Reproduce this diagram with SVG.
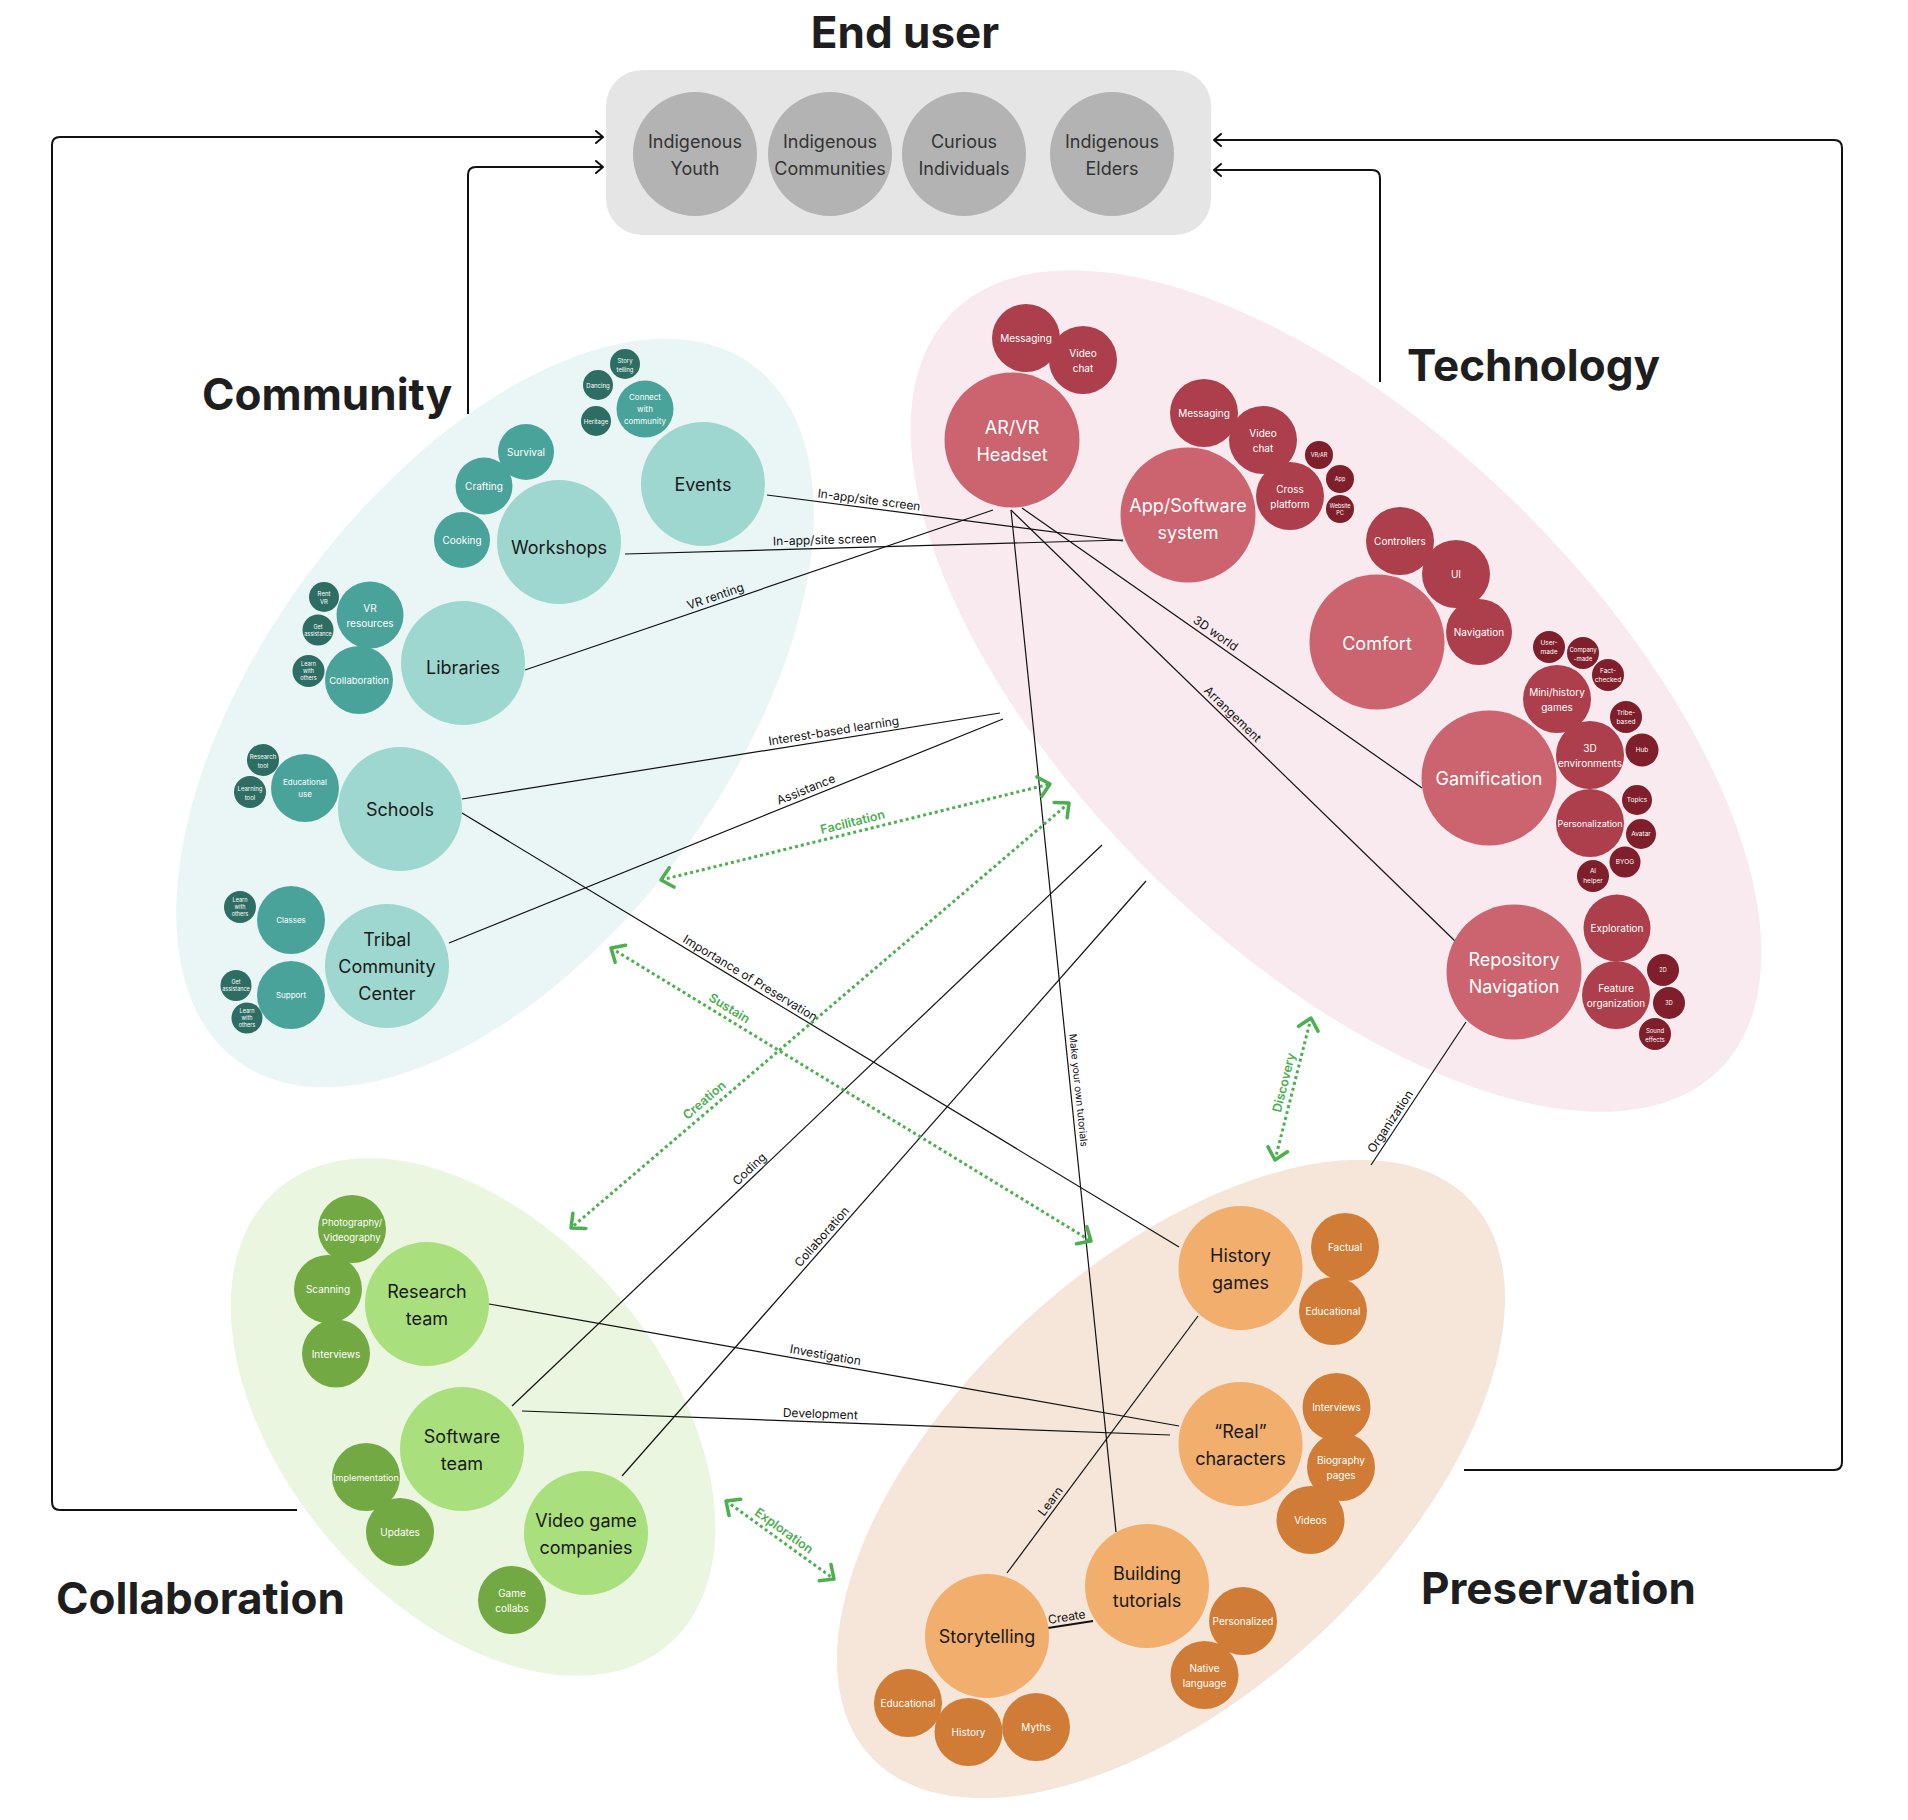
<svg xmlns="http://www.w3.org/2000/svg" width="1908" height="1820" viewBox="0 0 1908 1820">
<defs>
<style>
text{font-family:Inter,"Noto Sans","Liberation Sans",sans-serif}
.title{font-size:44px;font-weight:700;fill:#1e1e1e}
.nt{text-anchor:middle;dominant-baseline:central}
.f18{font-size:18px}.f10{font-size:10px}.f95{font-size:9.5px}.f9{font-size:9px}.f8{font-size:8px}.f7{font-size:7px}.f65{font-size:6.5px}.f6{font-size:6px}.f55{font-size:5.5px}
.dk{fill:#1a1a1a}.wt{fill:#fff}.gy{fill:#333}
.eu{fill:#b3b3b3}
.c1{fill:#9ed7cf}.c2{fill:#4aa39a}.c3{fill:#2e6d63}
.t1{fill:#cc6470}.t2{fill:#ad3f4c}.t3{fill:#7e1f2b}
.g1{fill:#a9df7c}.g2{fill:#73a942}
.p1{fill:#f1ae6c}.p2{fill:#d07c36}
.ln{stroke:#111;stroke-width:1.2;fill:none}
.el{stroke:#111;stroke-width:2;fill:none}
.gd{stroke:#4caf50;stroke-width:3;stroke-dasharray:3 3;fill:none}
.cl{font-size:12px;fill:#111;text-anchor:middle}
.gl{font-size:12.5px;font-weight:600;fill:#4caf50;text-anchor:middle}
</style>
<marker id="ga" viewBox="-14 -13 17 26" markerWidth="17" markerHeight="26" refX="0" refY="0" orient="auto-start-reverse" markerUnits="userSpaceOnUse">
<path d="M-11,-10 L0,0 L-11,10" fill="none" stroke="#4caf50" stroke-width="3.5" stroke-linecap="round" stroke-linejoin="round"/>
</marker>
<marker id="ba" viewBox="-9 -8 11 16" markerWidth="11" markerHeight="16" refX="0" refY="0" orient="auto" markerUnits="userSpaceOnUse">
<path d="M-7,-6 L0,0 L-7,6" fill="none" stroke="#111" stroke-width="2" stroke-linecap="round" stroke-linejoin="round"/>
</marker>
</defs>
<rect width="1908" height="1820" fill="#fff"/>

<!-- background clusters -->
<g id="clusters">
<ellipse cx="495" cy="713" rx="433" ry="233" transform="rotate(-53.4 495 713)" fill="#eaf6f5"/>
<ellipse cx="1336" cy="691" rx="539" ry="260" transform="rotate(44.5 1336 691)" fill="#f9eaef"/>
<ellipse cx="473" cy="1417" rx="300" ry="189" transform="rotate(49.4 473 1417)" fill="#eaf6df"/>
<ellipse cx="1171" cy="1479" rx="409" ry="215" transform="rotate(-42.7 1171 1479)" fill="#f5e6d9"/>
</g>

<!-- titles -->
<g id="titles">
<text class="title" x="905" y="48" text-anchor="middle">End user</text>
<text class="title" x="202" y="410">Community</text>
<text class="title" x="1407" y="381">Technology</text>
<text class="title" x="56" y="1614">Collaboration</text>
<text class="title" x="1421" y="1604">Preservation</text>
</g>

<!-- end user -->
<g id="end-user">
<rect x="606" y="70" width="605" height="165" rx="36" fill="#e5e5e5"/>
<g id="eu-youth"><circle class="eu" cx="695" cy="154" r="62"/><text class="nt f18 gy" x="695" y="154"><tspan x="695" dy="-13.5">Indigenous</tspan><tspan x="695" dy="27">Youth</tspan></text></g>
<g id="eu-communities"><circle class="eu" cx="830" cy="154" r="62"/><text class="nt f18 gy" x="830" y="154"><tspan x="830" dy="-13.5">Indigenous</tspan><tspan x="830" dy="27">Communities</tspan></text></g>
<g id="eu-curious"><circle class="eu" cx="964" cy="154" r="62"/><text class="nt f18 gy" x="964" y="154"><tspan x="964" dy="-13.5">Curious</tspan><tspan x="964" dy="27">Individuals</tspan></text></g>
<g id="eu-elders"><circle class="eu" cx="1112" cy="154" r="62"/><text class="nt f18 gy" x="1112" y="154"><tspan x="1112" dy="-13.5">Indigenous</tspan><tspan x="1112" dy="27">Elders</tspan></text></g>
</g>

<!-- connectors -->
<g id="connectors">
<path class="el" d="M297,1510 H60 Q52,1510 52,1502 V145 Q52,137 60,137 H603" marker-end="url(#ba)"/>
<path class="el" d="M468,414 V175 Q468,167 476,167 H603" marker-end="url(#ba)"/>
<path class="el" d="M1464,1470 H1834 Q1842,1470 1842,1462 V148 Q1842,140 1834,140 H1214" marker-end="url(#ba)"/>
<path class="el" d="M1380,382 V178 Q1380,170 1372,170 H1214" marker-end="url(#ba)"/>

<path class="ln" d="M767,495 L1123,541"/>
<path class="ln" d="M625,554 L1123,540"/>
<path class="ln" d="M525,670 L993,510"/>
<path class="ln" d="M462,799 L1000,713"/>
<path class="ln" d="M449,943 L1003,719"/>
<path class="ln" d="M462,813 L1179,1247"/>
<path class="ln" d="M1022,508 L1422,788"/>
<path class="ln" d="M1011,510 L1456,942"/>
<path class="ln" d="M1011,510 L1116,1532"/>
<path class="ln" d="M1102,845 L512,1406"/>
<path class="ln" d="M1146,881 L622,1476"/>
<path class="ln" d="M489,1304 L1179,1426"/>
<path class="ln" d="M522,1411 L1170,1435"/>
<path class="ln" d="M1198,1316 L1007,1573"/>
<path class="ln" d="M1048,1628 L1093,1621" style="stroke-width:2"/>
<path class="ln" d="M1466,1022 L1371,1165"/>

<text class="cl" transform="translate(868,508) rotate(7.4)" y="-4">In-app/site screen</text>
<text class="cl" transform="translate(825,548) rotate(-1.6)" y="-4">In-app/site screen</text>
<text class="cl" transform="translate(718,604) rotate(-18.9)" y="-4">VR renting</text>
<text class="cl" transform="translate(835,739) rotate(-9.1)" y="-4">Interest-based learning</text>
<text class="cl" transform="translate(809,797) rotate(-22)" y="-4">Assistance</text>
<text class="cl" transform="translate(746,985) rotate(31.2)" y="-4">Importance of Preservation</text>
<text class="cl" transform="translate(1211,640) rotate(35)" y="-4">3D world</text>
<text class="cl" transform="translate(1227,720) rotate(44.2)" y="-4">Arrangement</text>
<text class="cl" transform="translate(1071,1091) rotate(84.1)" y="-4" style="font-size:10px">Make your own tutorials</text>
<text class="cl" transform="translate(755,1175) rotate(-43.6)" y="-4">Coding</text>
<text class="cl" transform="translate(828,1242) rotate(-48.6)" y="-4">Collaboration</text>
<text class="cl" transform="translate(824,1363) rotate(10)" y="-4">Investigation</text>
<text class="cl" transform="translate(820,1422) rotate(2.1)" y="-4">Development</text>
<text class="cl" transform="translate(1057,1506) rotate(-53.4)" y="-4">Learn</text>
<text class="cl" transform="translate(1068,1625) rotate(-8.8)" y="-4">Create</text>
<text class="cl" transform="translate(1397,1126) rotate(-56.4)" y="-4">Organization</text>

<path class="gd" d="M661,880 L1050,784" marker-start="url(#ga)" marker-end="url(#ga)"/>
<path class="gd" d="M1069,803 L571,1228" marker-start="url(#ga)" marker-end="url(#ga)"/>
<path class="gd" d="M611,948 L1091,1241" marker-start="url(#ga)" marker-end="url(#ga)"/>
<path class="gd" d="M1311,1018 L1275,1160" marker-start="url(#ga)" marker-end="url(#ga)"/>
<path class="gd" d="M726,1501 L834,1579" marker-start="url(#ga)" marker-end="url(#ga)"/>
<text class="gl" transform="translate(855,832) rotate(-13.9)" y="-6">Facilitation</text>
<text class="gl" transform="translate(711,1108) rotate(-40.5)" y="-6">Creation</text>
<text class="gl" transform="translate(724,1017) rotate(31.4)" y="-6">Sustain</text>
<text class="gl" transform="translate(1294,1085) rotate(-75.8)" y="-6">Discovery</text>
<text class="gl" transform="translate(778,1539) rotate(35.8)" y="-6">Exploration</text>
</g>

<!-- Community nodes -->
<g id="community">
<g id="c-events"><circle class="c1" cx="703" cy="484" r="62"/><text class="nt f18 dk" x="703" y="484">Events</text></g>
<g id="c-workshops"><circle class="c1" cx="559" cy="542" r="62"/><text class="nt f18 dk" x="559" y="547">Workshops</text></g>
<g id="c-libraries"><circle class="c1" cx="463" cy="663" r="62"/><text class="nt f18 dk" x="463" y="667">Libraries</text></g>
<g id="c-schools"><circle class="c1" cx="400" cy="809" r="62"/><text class="nt f18 dk" x="400" y="809">Schools</text></g>
<g id="c-tribal"><circle class="c1" cx="387" cy="966" r="62"/><text class="nt f18 dk" x="387" y="966"><tspan x="387" dy="-27">Tribal</tspan><tspan x="387" dy="27">Community</tspan><tspan x="387" dy="27">Center</tspan></text></g>

<g id="c-survival"><circle class="c2" cx="526" cy="452" r="28"/><text class="nt f10 wt" x="526" y="452">Survival</text></g>
<g id="c-crafting"><circle class="c2" cx="484" cy="486" r="28.5"/><text class="nt f10 wt" x="484" y="486">Crafting</text></g>
<g id="c-cooking"><circle class="c2" cx="462" cy="540" r="28"/><text class="nt f10 wt" x="462" y="540">Cooking</text></g>
<g id="c-connect"><circle class="c2" cx="645" cy="409" r="28.5"/><text class="nt f8 wt" x="645" y="409"><tspan x="645" dy="-12">Connect</tspan><tspan x="645" dy="12">with</tspan><tspan x="645" dy="12">community</tspan></text></g>
<g id="c-storytelling"><circle class="c3" cx="625" cy="364" r="15"/><text class="nt f6 wt" x="625" y="364"><tspan x="625" dy="-4.5">Story</tspan><tspan x="625" dy="9">telling</tspan></text></g>
<g id="c-dancing"><circle class="c3" cx="598" cy="385" r="15"/><text class="nt f6 wt" x="598" y="385">Dancing</text></g>
<g id="c-heritage"><circle class="c3" cx="596" cy="421" r="15"/><text class="nt f6 wt" x="596" y="421">Heritage</text></g>

<g id="c-vrres"><circle class="c2" cx="370" cy="615" r="33.5"/><text class="nt f10 wt" x="370" y="615"><tspan x="370" dy="-7.5">VR</tspan><tspan x="370" dy="15">resources</tspan></text></g>
<g id="c-collab"><circle class="c2" cx="359" cy="680" r="34"/><text class="nt f95 wt" x="359" y="680">Collaboration</text></g>
<g id="c-rentvr"><circle class="c3" cx="324" cy="597" r="15"/><text class="nt f6 wt" x="324" y="597"><tspan x="324" dy="-4">Rent</tspan><tspan x="324" dy="8">VR</tspan></text></g>
<g id="c-getass1"><circle class="c3" cx="318" cy="630" r="15.5"/><text class="nt f55 wt" x="318" y="630"><tspan x="318" dy="-3.5">Get</tspan><tspan x="318" dy="7">assistance</tspan></text></g>
<g id="c-learn1"><circle class="c3" cx="308.5" cy="671" r="16"/><text class="nt f55 wt" x="308.5" y="671"><tspan x="308.5" dy="-7">Learn</tspan><tspan x="308.5" dy="7">with</tspan><tspan x="308.5" dy="7">others</tspan></text></g>

<g id="c-edu"><circle class="c2" cx="305" cy="788" r="34"/><text class="nt f8 wt" x="305" y="788"><tspan x="305" dy="-6">Educational</tspan><tspan x="305" dy="12">use</tspan></text></g>
<g id="c-restool"><circle class="c3" cx="263" cy="760" r="16"/><text class="nt f6 wt" x="263" y="760"><tspan x="263" dy="-4.5">Research</tspan><tspan x="263" dy="9">tool</tspan></text></g>
<g id="c-learntool"><circle class="c3" cx="250" cy="792" r="16"/><text class="nt f6 wt" x="250" y="792"><tspan x="250" dy="-4.5">Learning</tspan><tspan x="250" dy="9">tool</tspan></text></g>

<g id="c-classes"><circle class="c2" cx="291" cy="920" r="34"/><text class="nt f8 wt" x="291" y="920">Classes</text></g>
<g id="c-support"><circle class="c2" cx="291" cy="995" r="34"/><text class="nt f8 wt" x="291" y="995">Support</text></g>
<g id="c-learn2"><circle class="c3" cx="240" cy="907" r="16"/><text class="nt f55 wt" x="240" y="907"><tspan x="240" dy="-7">Learn</tspan><tspan x="240" dy="7">with</tspan><tspan x="240" dy="7">others</tspan></text></g>
<g id="c-getass2"><circle class="c3" cx="236" cy="985.5" r="15.5"/><text class="nt f55 wt" x="236" y="985.5"><tspan x="236" dy="-3.5">Get</tspan><tspan x="236" dy="7">assistance</tspan></text></g>
<g id="c-learn3"><circle class="c3" cx="247" cy="1018" r="15.5"/><text class="nt f55 wt" x="247" y="1018"><tspan x="247" dy="-7">Learn</tspan><tspan x="247" dy="7">with</tspan><tspan x="247" dy="7">others</tspan></text></g>
</g>

<!-- Technology nodes -->
<g id="technology">
<g id="t-msg1"><circle class="t2" cx="1026" cy="338" r="34"/><text class="nt f10 wt" x="1026" y="338">Messaging</text></g>
<g id="t-vid1"><circle class="t2" cx="1083" cy="360" r="34"/><text class="nt f10 wt" x="1083" y="360"><tspan x="1083" dy="-7.5">Video</tspan><tspan x="1083" dy="15">chat</tspan></text></g>
<g id="t-arvr"><circle class="t1" cx="1012" cy="440" r="67.5"/><text class="nt f18 wt" x="1012" y="440"><tspan x="1012" dy="-13.5">AR/VR</tspan><tspan x="1012" dy="27">Headset</tspan></text></g>

<g id="t-msg2"><circle class="t2" cx="1204" cy="413" r="34"/><text class="nt f10 wt" x="1204" y="413">Messaging</text></g>
<g id="t-vid2"><circle class="t2" cx="1263" cy="440" r="34"/><text class="nt f10 wt" x="1263" y="440"><tspan x="1263" dy="-7.5">Video</tspan><tspan x="1263" dy="15">chat</tspan></text></g>
<g id="t-cross"><circle class="t2" cx="1290" cy="496" r="34"/><text class="nt f10 wt" x="1290" y="496"><tspan x="1290" dy="-7.5">Cross</tspan><tspan x="1290" dy="15">platform</tspan></text></g>
<g id="t-vrar"><circle class="t3" cx="1319" cy="455" r="14"/><text class="nt f55 wt" x="1319" y="455">VR/AR</text></g>
<g id="t-app"><circle class="t3" cx="1340" cy="479" r="14"/><text class="nt f55 wt" x="1340" y="479">App</text></g>
<g id="t-web"><circle class="t3" cx="1340" cy="509" r="14"/><text class="nt f55 wt" x="1340" y="509"><tspan x="1340" dy="-3.5">Website</tspan><tspan x="1340" dy="7">PC</tspan></text></g>
<g id="t-appsw"><circle class="t1" cx="1188" cy="515" r="67.5"/><text class="nt f18 wt" x="1188" y="518.5"><tspan x="1188" dy="-13.5">App/Software</tspan><tspan x="1188" dy="27">system</tspan></text></g>

<g id="t-controllers"><circle class="t2" cx="1400" cy="541" r="34"/><text class="nt f10 wt" x="1400" y="541">Controllers</text></g>
<g id="t-ui"><circle class="t2" cx="1456" cy="574" r="34"/><text class="nt f10 wt" x="1456" y="574">UI</text></g>
<g id="t-nav"><circle class="t2" cx="1479" cy="632" r="33"/><text class="nt f10 wt" x="1479" y="632">Navigation</text></g>
<g id="t-comfort"><circle class="t1" cx="1377" cy="642" r="67.5"/><text class="nt f18 wt" x="1377" y="643">Comfort</text></g>

<g id="t-usermade"><circle class="t3" cx="1549" cy="647" r="16"/><text class="nt f65 wt" x="1549" y="647"><tspan x="1549" dy="-4.5">User-</tspan><tspan x="1549" dy="9">made</tspan></text></g>
<g id="t-compmade"><circle class="t3" cx="1583" cy="653" r="16"/><text class="nt f6 wt" x="1583" y="653"><tspan x="1583" dy="-4.5">Company</tspan><tspan x="1583" dy="9">-made</tspan></text></g>
<g id="t-fact"><circle class="t3" cx="1608" cy="675" r="16"/><text class="nt f65 wt" x="1608" y="675"><tspan x="1608" dy="-4.5">Fact-</tspan><tspan x="1608" dy="9">checked</tspan></text></g>
<g id="t-mini"><circle class="t2" cx="1557" cy="699" r="34"/><text class="nt f10 wt" x="1557" y="699"><tspan x="1557" dy="-7.5">Mini/history</tspan><tspan x="1557" dy="15">games</tspan></text></g>
<g id="t-tribe"><circle class="t3" cx="1626" cy="717" r="16"/><text class="nt f65 wt" x="1626" y="717"><tspan x="1626" dy="-4.5">Tribe-</tspan><tspan x="1626" dy="9">based</tspan></text></g>
<g id="t-hub"><circle class="t3" cx="1642" cy="750" r="16.5"/><text class="nt f65 wt" x="1642" y="750">Hub</text></g>
<g id="t-3denv"><circle class="t2" cx="1590" cy="755" r="34"/><text class="nt f10 wt" x="1590" y="755"><tspan x="1590" dy="-7.5">3D</tspan><tspan x="1590" dy="15">environments</tspan></text></g>
<g id="t-gamif"><circle class="t1" cx="1489" cy="778" r="67.5"/><text class="nt f18 wt" x="1489" y="778">Gamification</text></g>
<g id="t-topics"><circle class="t3" cx="1637" cy="800" r="15"/><text class="nt f65 wt" x="1637" y="800">Topics</text></g>
<g id="t-avatar"><circle class="t3" cx="1641" cy="834" r="15"/><text class="nt f65 wt" x="1641" y="834">Avatar</text></g>
<g id="t-byog"><circle class="t3" cx="1625" cy="862" r="15.5"/><text class="nt f65 wt" x="1625" y="862">BYOG</text></g>
<g id="t-aihelper"><circle class="t3" cx="1593" cy="876" r="16"/><text class="nt f65 wt" x="1593" y="876"><tspan x="1593" dy="-5">AI</tspan><tspan x="1593" dy="10">helper</tspan></text></g>
<g id="t-person"><circle class="t2" cx="1590" cy="823" r="34"/><text class="nt f9 wt" x="1590" y="823">Personalization</text></g>

<g id="t-explor"><circle class="t2" cx="1617" cy="928" r="33.5"/><text class="nt f10 wt" x="1617" y="928">Exploration</text></g>
<g id="t-2d"><circle class="t3" cx="1663" cy="970" r="16"/><text class="nt f55 wt" x="1663" y="970">2D</text></g>
<g id="t-3d"><circle class="t3" cx="1669" cy="1003" r="16"/><text class="nt f55 wt" x="1669" y="1003">3D</text></g>
<g id="t-sound"><circle class="t3" cx="1655" cy="1034" r="16"/><text class="nt f6 wt" x="1655" y="1034"><tspan x="1655" dy="-4.5">Sound</tspan><tspan x="1655" dy="9">effects</tspan></text></g>
<g id="t-feature"><circle class="t2" cx="1616" cy="995" r="34"/><text class="nt f10 wt" x="1616" y="995"><tspan x="1616" dy="-7.5">Feature</tspan><tspan x="1616" dy="15">organization</tspan></text></g>
<g id="t-repo"><circle class="t1" cx="1514" cy="972" r="67.5"/><text class="nt f18 wt" x="1514" y="972"><tspan x="1514" dy="-13.5">Repository</tspan><tspan x="1514" dy="27">Navigation</tspan></text></g>
</g>

<!-- Collaboration nodes -->
<g id="collaboration">
<g id="g-photo"><circle class="g2" cx="352" cy="1229" r="34"/><text class="nt f95 wt" x="352" y="1229"><tspan x="352" dy="-7.5">Photography/</tspan><tspan x="352" dy="15">Videography</tspan></text></g>
<g id="g-scan"><circle class="g2" cx="328" cy="1289" r="34"/><text class="nt f10 wt" x="328" y="1289">Scanning</text></g>
<g id="g-interv"><circle class="g2" cx="336" cy="1353.5" r="34"/><text class="nt f10 wt" x="336" y="1353.5">Interviews</text></g>
<g id="g-research"><circle class="g1" cx="427" cy="1304" r="62"/><text class="nt f18 dk" x="427" y="1304"><tspan x="427" dy="-13.5">Research</tspan><tspan x="427" dy="27">team</tspan></text></g>
<g id="g-impl"><circle class="g2" cx="366" cy="1477" r="34"/><text class="nt f9 wt" x="366" y="1477">Implementation</text></g>
<g id="g-updates"><circle class="g2" cx="400" cy="1532" r="34"/><text class="nt f10 wt" x="400" y="1532">Updates</text></g>
<g id="g-software"><circle class="g1" cx="462" cy="1449" r="62"/><text class="nt f18 dk" x="462" y="1449"><tspan x="462" dy="-13.5">Software</tspan><tspan x="462" dy="27">team</tspan></text></g>
<g id="g-gamecollabs"><circle class="g2" cx="512" cy="1600" r="34"/><text class="nt f10 wt" x="512" y="1600"><tspan x="512" dy="-7.5">Game</tspan><tspan x="512" dy="15">collabs</tspan></text></g>
<g id="g-vgc"><circle class="g1" cx="586" cy="1533" r="62"/><text class="nt f18 dk" x="586" y="1533"><tspan x="586" dy="-13.5">Video game</tspan><tspan x="586" dy="27">companies</tspan></text></g>
</g>

<!-- Preservation nodes -->
<g id="preservation">
<g id="p-history"><circle class="p1" cx="1240.5" cy="1268" r="62"/><text class="nt f18 dk" x="1240.5" y="1268"><tspan x="1240.5" dy="-13.5">History</tspan><tspan x="1240.5" dy="27">games</tspan></text></g>
<g id="p-factual"><circle class="p2" cx="1345" cy="1247" r="34"/><text class="nt f10 wt" x="1345" y="1247">Factual</text></g>
<g id="p-edu1"><circle class="p2" cx="1333" cy="1311" r="34"/><text class="nt f10 wt" x="1333" y="1311">Educational</text></g>
<g id="p-real"><circle class="p1" cx="1240.5" cy="1444" r="62"/><text class="nt f18 dk" x="1240.5" y="1444"><tspan x="1240.5" dy="-13.5">“Real”</tspan><tspan x="1240.5" dy="27">characters</tspan></text></g>
<g id="p-interv"><circle class="p2" cx="1336.5" cy="1407" r="34"/><text class="nt f10 wt" x="1336.5" y="1407">Interviews</text></g>
<g id="p-bio"><circle class="p2" cx="1341" cy="1467" r="34"/><text class="nt f10 wt" x="1341" y="1467"><tspan x="1341" dy="-7.5">Biography</tspan><tspan x="1341" dy="15">pages</tspan></text></g>
<g id="p-videos"><circle class="p2" cx="1310.5" cy="1520" r="34"/><text class="nt f10 wt" x="1310.5" y="1520">Videos</text></g>
<g id="p-building"><circle class="p1" cx="1147" cy="1586" r="62"/><text class="nt f18 dk" x="1147" y="1586"><tspan x="1147" dy="-13.5">Building</tspan><tspan x="1147" dy="27">tutorials</tspan></text></g>
<g id="p-personal"><circle class="p2" cx="1243" cy="1621" r="34"/><text class="nt f10 wt" x="1243" y="1621">Personalized</text></g>
<g id="p-native"><circle class="p2" cx="1204.5" cy="1675" r="34"/><text class="nt f10 wt" x="1204.5" y="1675"><tspan x="1204.5" dy="-7.5">Native</tspan><tspan x="1204.5" dy="15">language</tspan></text></g>
<g id="p-story"><circle class="p1" cx="987" cy="1636" r="62"/><text class="nt f18 dk" x="987" y="1636">Storytelling</text></g>
<g id="p-edu2"><circle class="p2" cx="908" cy="1703" r="34"/><text class="nt f10 wt" x="908" y="1703">Educational</text></g>
<g id="p-hist"><circle class="p2" cx="968.5" cy="1732" r="34"/><text class="nt f10 wt" x="968.5" y="1732">History</text></g>
<g id="p-myths"><circle class="p2" cx="1036" cy="1727" r="34"/><text class="nt f10 wt" x="1036" y="1727">Myths</text></g>
</g>
</svg>
